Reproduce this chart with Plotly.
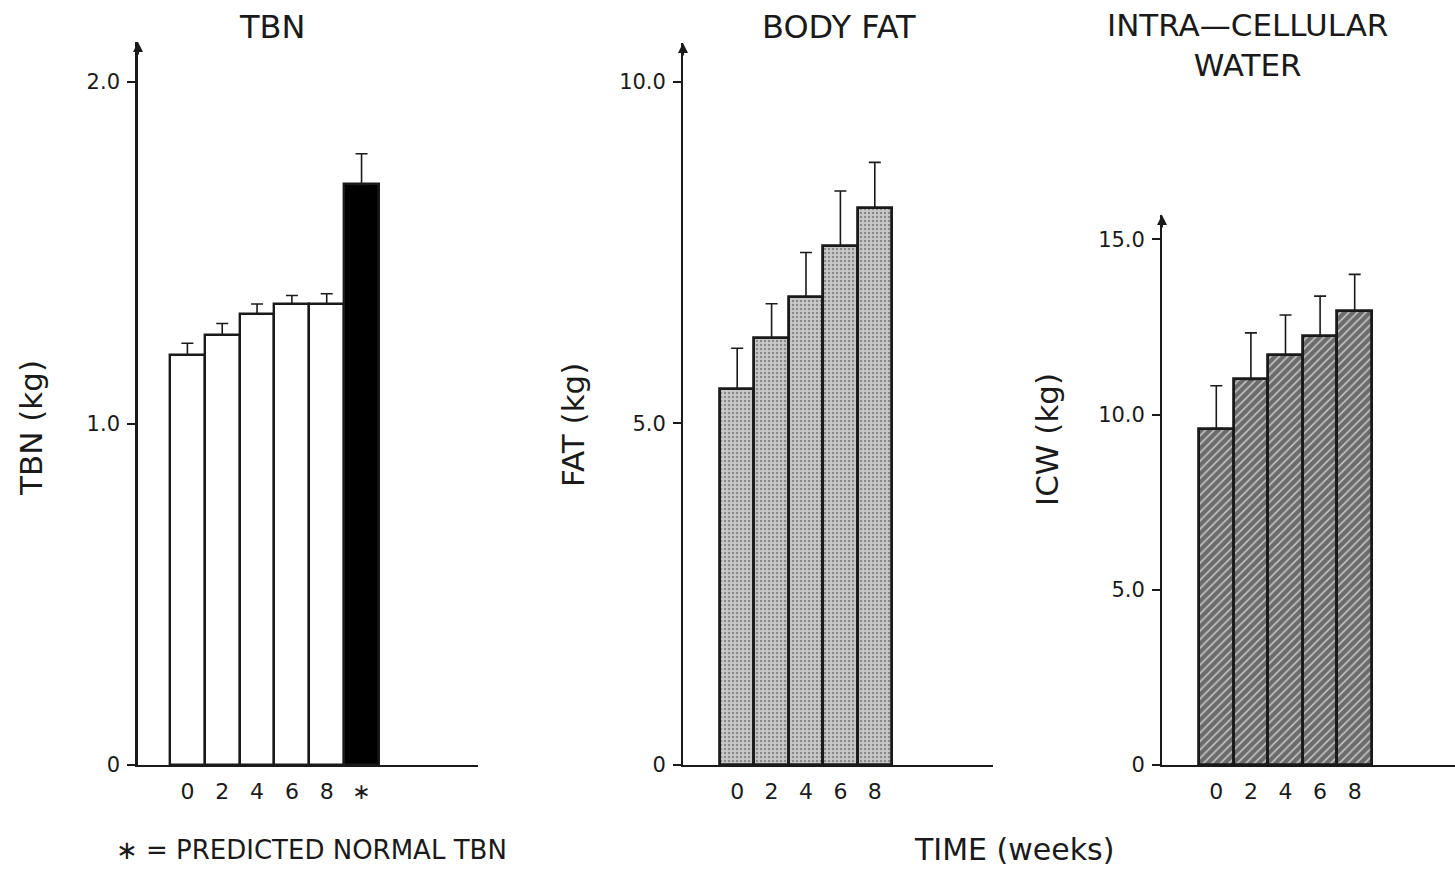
import plotly.graph_objects as go

# ---- data -------------------------------------------------------------
tbn_categories = ["0", "2", "4", "6", "8", "∗"]
tbn_values = [1.20, 1.26, 1.32, 1.35, 1.35, 1.70]
tbn_errors = [0.035, 0.033, 0.03, 0.025, 0.03, 0.09]

week_categories = ["0", "2", "4", "6", "8"]
fat_values = [5.5, 6.25, 6.85, 7.6, 8.15]
fat_errors = [0.6, 0.5, 0.65, 0.8, 0.67]

icw_values = [9.6, 11.0, 11.7, 12.25, 12.95]
icw_errors = [1.22, 1.33, 1.14, 1.13, 1.05]

tbn_ticks = [0, 1, 2]
tbn_ticktext = ["0", "1.0", "2.0"]
fat_ticks = [0, 5, 10]
fat_ticktext = ["0", "5.0", "10.0"]
icw_ticks = [0, 5, 10, 15]
icw_ticktext = ["0", "5.0", "10.0", "15.0"]

# ---- page geometry (pixels) -------------------------------------------
W, H = 1455, 869
FONT = "DejaVu Sans"
INK = "#1a1a1a"


def px(x):
    return x / W


def py(y):
    return 1 - y / H


fig = go.Figure()

err_style = dict(type="data", symmetric=False, color=INK, thickness=1.6, width=6)

# TBN panel: open bars, predicted normal value in solid black
fig.add_trace(go.Bar(
    x=tbn_categories, y=tbn_values, xaxis="x", yaxis="y",
    marker=dict(color=["white"] * 5 + ["black"], line=dict(color=INK, width=2.4)),
    error_y=dict(array=tbn_errors, arrayminus=[0] * len(tbn_errors), **err_style),
    showlegend=False,
))

# Body fat panel: stippled grey bars
fig.add_trace(go.Bar(
    x=week_categories, y=fat_values, xaxis="x2", yaxis="y2",
    marker=dict(color="#c4c4c4", line=dict(color=INK, width=2.8),
                pattern=dict(shape=".", fgcolor="#4a4a4a", bgcolor="#c9c9c9",
                             size=4, solidity=0.3)),
    error_y=dict(array=fat_errors, arrayminus=[0] * len(fat_errors), **err_style),
    showlegend=False,
))

# Intracellular water panel: diagonal hatched bars
fig.add_trace(go.Bar(
    x=week_categories, y=icw_values, xaxis="x3", yaxis="y3",
    marker=dict(color="#333333", line=dict(color=INK, width=2.8),
                pattern=dict(shape="/", fgcolor="#141414", bgcolor="#c2c2c2",
                             size=6, solidity=0.72)),
    error_y=dict(array=icw_errors, arrayminus=[0] * len(icw_errors), **err_style),
    showlegend=False,
))

tickfont = dict(family=FONT, size=21, color=INK)
xtickfont = dict(family=FONT, size=22, color=INK)


def xaxis(x0, x1, lo, hi, anchor):
    return dict(domain=[px(x0), px(x1)], range=[lo, hi], anchor=anchor,
                type="category", showline=True, linecolor=INK, linewidth=2,
                showgrid=False, zeroline=False, ticks="", tickfont=xtickfont,
                ticklabelstandoff=6, automargin=False, fixedrange=True)


def yaxis(top_px, hi, tickvals, ticktext, anchor, lw):
    return dict(domain=[py(765), py(top_px)], range=[0, hi], anchor=anchor,
                showline=True, linecolor=INK, linewidth=lw, showgrid=False,
                zeroline=False, ticks="outside", ticklen=8, tickwidth=1.5,
                tickcolor=INK, tickvals=tickvals, ticktext=ticktext,
                tickfont=tickfont, ticklabelstandoff=3, automargin=False,
                fixedrange=True)


tbn_hi = 2 * (765 - 42) / (765 - 82)
fat_hi = 10 * (765 - 43) / (765 - 81.7)
icw_hi = 15 * (765 - 215) / (765 - 239.3)

x1_lo = -(187.4 - 138) / 34.83
x2_lo = -(737.2 - 683) / 34.4
x3_lo = -(1216.3 - 1162) / 34.6

fig.update_layout(
    width=W, height=H,
    margin=dict(l=0, r=0, t=0, b=0),
    paper_bgcolor="white", plot_bgcolor="white",
    bargap=0,
    xaxis=xaxis(138, 478, x1_lo, x1_lo + 340 / 34.83, "y"),
    yaxis=yaxis(42, tbn_hi, tbn_ticks, tbn_ticktext, "x", 2.6),
    xaxis2=xaxis(683, 993, x2_lo, x2_lo + 310 / 34.4, "y2"),
    yaxis2=yaxis(43, fat_hi, fat_ticks, fat_ticktext, "x2", 1.8),
    xaxis3=xaxis(1162, 1455, x3_lo, x3_lo + 293 / 34.6, "y3"),
    yaxis3=yaxis(215, icw_hi, icw_ticks, icw_ticktext, "x3", 1.8),
)

# arrowheads at the top of each value axis
for xr, yr, lo, hi in [("x", "y", x1_lo, tbn_hi), ("x2", "y2", x2_lo, fat_hi),
                       ("x3", "y3", x3_lo, icw_hi)]:
    fig.add_annotation(x=lo, y=hi, xref=xr, yref=yr, ax=0, ay=14,
                       axref="pixel", ayref="pixel", text="", showarrow=True,
                       arrowhead=2, arrowsize=1, arrowwidth=2, arrowcolor=INK)


def label(text, x, y, size, angle=0):
    fig.add_annotation(x=px(x), y=py(y), xref="paper", yref="paper",
                       text=text, showarrow=False, textangle=angle,
                       xanchor="center", yanchor="middle",
                       font=dict(family=FONT, size=size, color=INK))


label("TBN", 272, 27, 32)
label("BODY FAT", 839, 27, 32)
label("INTRA—CELLULAR<br>WATER", 1247, 45, 31)

label("TBN (kg)", 31, 428, 31, -90)
label("FAT (kg)", 573, 425, 31, -90)
label("ICW (kg)", 1047, 440, 31, -90)

label("∗ = PREDICTED NORMAL TBN", 311, 850, 26)
label("TIME (weeks)", 1014, 849, 30)

fig.write_html("out.html")
